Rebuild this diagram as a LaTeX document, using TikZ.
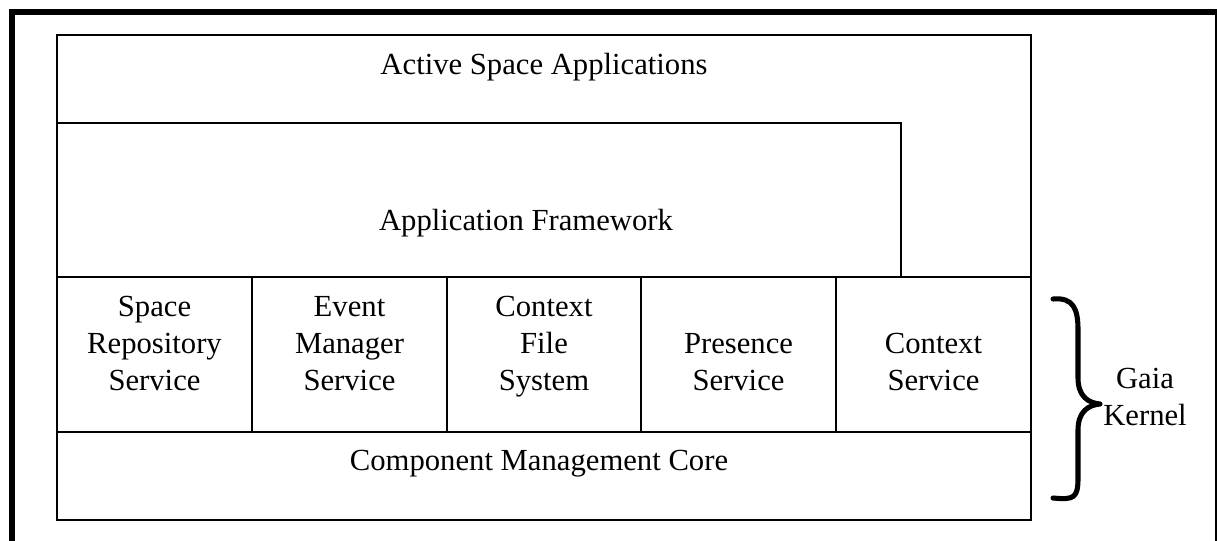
\documentclass[tikz,border=0pt]{standalone}
\usepackage{fontspec}
\setmainfont{Liberation Serif}
\begin{document}
\begin{tikzpicture}[x=0.75pt,y=-0.75pt,
  frameline/.style={line width=4.5pt},
  boxline/.style={line width=1.6pt},
  bracestyle/.style={line width=3.8pt, line cap=round, line join=round},
  label/.style={inner sep=0pt, font=\fontsize{23}{27.4}\selectfont},
  stack/.style={label, align=center, anchor=base}]
  \useasboundingbox (0,0) rectangle (1217,540);
  \clip (0,0) rectangle (1217,540);

  % outer page frame (runs past the right and bottom edges)
  \draw[frameline] (12,11.5) rectangle (1217.5,560);

  % layered architecture
  \draw[boxline] (57,35) rectangle (1031,520);
  \draw[boxline] (57,123) -- (901,123) -- (901,277);
  \draw[boxline] (57,277) -- (1031,277);
  \draw[boxline] (57,432) -- (1031,432);
  \foreach \x in {252,447,641,836}
    \draw[boxline] (\x,277) -- (\x,432);

  % layer labels
  \node[label, anchor=base] (apps) at (544,74) {Active Space Applications};
  \node[label, anchor=base] (framework) at (526,230) {Application Framework};
  \node[label, anchor=base] (core) at (539,470) {Component Management Core};

  % kernel services
  \node[stack] (repo) at (154.5,390) {Space\\Repository\\Service};
  \node[stack] (events) at (349.5,390) {Event\\Manager\\Service};
  \node[stack] (cfs) at (544,390) {Context\\File\\System};
  \node[stack] (presence) at (738.5,390) {Presence\\Service};
  \node[stack] (context) at (933.5,390) {Context\\Service};

  % kernel brace and caption
  \draw[bracestyle] (1053,299)
    .. controls (1074,297) and (1078,310) .. (1078,330)
    -- (1078,378)
    .. controls (1078,396) and (1088,403) .. (1100,404)
    .. controls (1088,405) and (1078,412) .. (1078,430)
    -- (1078,478)
    .. controls (1078,498) and (1074,500) .. (1053,498);
  \node[stack] (kernel) at (1145,425) {Gaia\\Kernel};
\end{tikzpicture}
\end{document}
